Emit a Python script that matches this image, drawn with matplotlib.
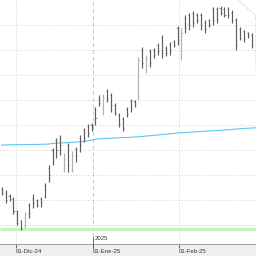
import numpy as np
import matplotlib
matplotlib.use('Agg')
import matplotlib.pyplot as plt
import matplotlib.transforms as mtransforms

# daily OHLC bars (Nov-24 .. Feb-25)
highs = [21.52, 21.40, 21.24, 21.12, 20.60, 20.20, 20.52, 20.88, 21.24, 21.04,
         21.12, 21.68, 22.40, 23.08, 23.48, 23.60, 22.88, 23.28, 22.96, 23.12,
         23.60, 23.88, 24.04, 24.08, 24.72, 25.20, 25.24, 25.44, 25.28, 24.88,
         24.48, 24.32, 24.72, 25.04, 25.00, 26.72, 27.12, 26.80, 27.04, 27.08,
         27.28, 27.60, 27.16, 27.32, 27.40, 27.96, 27.88, 28.40, 28.48, 28.56,
         28.48, 28.48, 28.20, 28.24, 28.72, 28.72, 28.76, 28.72, 28.72, 28.60,
         28.28, 27.92, 27.80, 27.72, 27.68, 28.40]
lows = [21.20, 20.88, 20.96, 20.44, 20.00, 19.80, 19.88, 20.28, 20.68, 20.72,
        20.72, 21.08, 21.72, 22.40, 22.68, 22.80, 22.12, 22.12, 22.12, 22.52,
        22.92, 23.32, 23.52, 23.76, 24.00, 24.76, 24.40, 24.92, 24.52, 24.40,
        23.92, 23.76, 24.32, 24.52, 24.72, 25.00, 26.28, 26.08, 26.32, 26.68,
        26.80, 26.68, 26.76, 26.80, 27.12, 27.20, 26.60, 27.68, 27.80, 27.92,
        28.08, 27.80, 27.68, 27.92, 28.00, 28.08, 28.40, 28.32, 28.28, 28.08,
        27.00, 27.40, 27.32, 27.48, 27.08, 26.20]
opens = [21.45, 21.30, 21.15, 21.05, 20.55, 20.15, 19.95, 20.80, 21.10, 21.00,
         21.05, 21.60, 22.30, 23.00, 23.40, 23.50, 22.20, 23.20, 22.20, 23.05,
         23.50, 23.80, 23.95, 24.00, 24.65, 25.10, 24.50, 25.35, 25.20, 24.80,
         24.40, 24.25, 24.65, 24.95, 24.95, 25.10, 27.00, 26.20, 26.95, 27.00,
         27.20, 27.50, 27.10, 27.25, 27.35, 27.90, 26.70, 28.30, 28.40, 28.50,
         28.40, 28.40, 28.10, 28.20, 28.65, 28.65, 28.70, 28.65, 28.65, 28.50,
         28.20, 27.85, 27.75, 27.70, 27.60, 28.30]
closes = [21.30, 21.00, 21.05, 20.55, 20.10, 19.90, 20.45, 20.50, 20.90, 20.80,
          20.90, 21.40, 22.00, 22.70, 23.00, 23.20, 22.70, 22.40, 22.80, 22.80,
          23.20, 23.50, 23.70, 23.85, 24.30, 24.90, 25.10, 25.10, 24.80, 24.50,
          24.05, 23.90, 24.45, 24.70, 24.80, 26.60, 26.50, 26.70, 26.50, 26.80,
          26.95, 26.90, 26.90, 27.00, 27.20, 27.40, 27.70, 27.90, 28.00, 28.10,
          28.20, 28.00, 27.85, 28.00, 28.20, 28.25, 28.50, 28.40, 28.40, 28.20,
          27.20, 27.50, 27.45, 27.55, 27.20, 26.40]
# long moving average
ma = [23.20, 23.20, 23.21, 23.21, 23.21, 23.21, 23.22, 23.22, 23.22, 23.22,
      23.23, 23.23, 23.24, 23.26, 23.27, 23.28, 23.29, 23.30, 23.31, 23.32,
      23.33, 23.35, 23.37, 23.39, 23.43, 23.45, 23.46, 23.46, 23.47, 23.48,
      23.49, 23.50, 23.50, 23.51, 23.52, 23.53, 23.54, 23.56, 23.57, 23.59,
      23.60, 23.62, 23.63, 23.65, 23.66, 23.68, 23.69, 23.70, 23.71, 23.72,
      23.73, 23.74, 23.75, 23.76, 23.77, 23.78, 23.79, 23.80, 23.81, 23.82,
      23.84, 23.85, 23.86, 23.87, 23.88, 23.89]
support = 19.84
trend_x = [59.8, 65.5]
trend_y = [29.10, 28.30]

month_pos = [3.6, 23.4, 45.4]
month_labels = ['01-Dic-24', '01-Ene-25', '01-Feb-25']
year_pos = 23.4
year_label = '2025'

x = np.arange(len(highs))
up = np.array(closes) > np.array(opens)
colors = np.where(up, '#b0b0b0', '#5e5e5e')

fig = plt.figure(figsize=(2.56, 2.56), dpi=100, facecolor='#efefef')
ax = fig.add_axes([0, 12 / 256, 1, 244 / 256])
ax.set_facecolor('white')
ax.set_xlim(-0.435, 65.07)
ax.set_ylim(19.24, 29.0)

# grid
for g in range(20, 29):
    ax.axhline(g, color='#d4d4d4', lw=0.6, ls=(0, (1.5, 2)), zorder=0)
for p in month_pos:
    if p == year_pos:
        ax.axvline(p, color='#c8c8c8', lw=0.7, ls=(0, (4, 3)), zorder=0)
    else:
        ax.axvline(p, color='#d4d4d4', lw=0.6, ls=(0, (1.5, 2)), zorder=0)

ax.hlines(support, -0.435, 65.07, color='#c2f5bb', lw=2.3, zorder=1)
ax.plot(x, ma, color='#5cc6ee', lw=0.8, zorder=2)
ax.plot(trend_x, trend_y, color='#a5e6a5', lw=0.7, ls=(0, (1, 1)), zorder=2)

# OHLC bars
ax.vlines(x, lows, highs, colors=colors, lw=0.85, zorder=3)
ax.hlines(opens, x - 0.28, x, colors=colors, lw=0.5, zorder=3)
ax.hlines(closes, x, x + 0.28, colors=colors, lw=0.5, zorder=3)

for s in ['top', 'left', 'right']:
    ax.spines[s].set_visible(False)
ax.spines['bottom'].set_color('#a0a0a0')
ax.spines['bottom'].set_linewidth(0.7)
ax.set_yticks([])
ax.set_xticks(month_pos)
ax.set_xticklabels(month_labels, fontsize=4.3, color='#333333',
                   ha='left', family='Liberation Sans')
ax.tick_params(axis='x', length=3, width=0.6, color='#555555', pad=0.6)

# year marker
trans = mtransforms.blended_transform_factory(ax.transData, ax.transAxes)
ax.plot([year_pos, year_pos], [0.029, -0.017], color='#555555', lw=0.6,
        transform=trans, clip_on=False, zorder=4)
ax.text(year_pos + 0.3, 0.012, year_label, transform=trans, fontsize=4.3,
        color='#333333', family='Liberation Sans', va='bottom', ha='left')

fig.savefig('out.png', dpi=100, facecolor=fig.get_facecolor())
